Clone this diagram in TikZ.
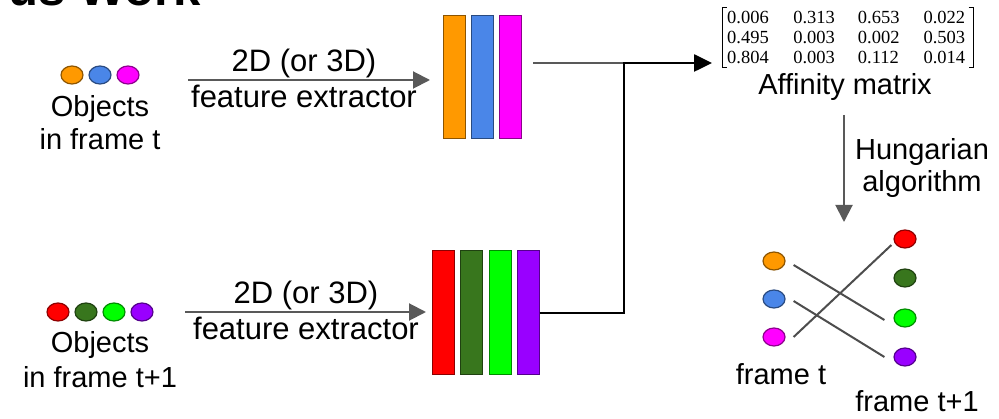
\documentclass[tikz,border=0pt]{standalone}
\usepackage{fontspec}
\setmainfont{Liberation Sans}
\newfontfamily\matfont{Liberation Serif}
\usetikzlibrary{arrows.meta,shapes.geometric,calc}
\definecolor{cOrange}{HTML}{FF9900}
\definecolor{cBlue}{HTML}{4A86E8}
\definecolor{cMagenta}{HTML}{FF00FF}
\definecolor{cRed}{HTML}{FF0000}
\definecolor{cDkGreen}{HTML}{38761D}
\definecolor{cLime}{HTML}{00FF00}
\definecolor{cPurple}{HTML}{9900FF}
\definecolor{cGray}{HTML}{595959}
\definecolor{cLine}{HTML}{4D4D4D}
\begin{document}
\begin{tikzpicture}[x=1pt,y=-1pt,
  lbl/.style={font=\fontsize{29}{34}\selectfont, inner sep=0pt, anchor=base},
  flbl/.style={font=\fontsize{31}{34}\selectfont, inner sep=0pt, anchor=base},
  dot/.style={ellipse, minimum width=22pt, minimum height=18pt, inner sep=0pt,
    fill=#1, draw=#1!55!black, line width=1.2pt},
  bar/.style={rectangle, minimum width=22pt, inner sep=0pt, outer sep=0pt,
    fill=#1, draw=#1!55!black, line width=1pt},
  garrow/.style={draw=cGray, line width=2pt, -{Triangle[length=17pt,width=17pt]}},
  blkline/.style={draw=black, line width=2.6pt, line join=miter},
  link/.style={draw=cLine, line width=2pt},
  brk/.style={draw=black, line width=1pt}]
\useasboundingbox (0,0) rectangle (999,419);
\clip (0,0) rectangle (999,419);

% title (cut off)
\node[anchor=base east, inner sep=0pt, font=\bfseries\fontsize{49}{50}\selectfont] (title) at (201,6) {us Work};

% objects in frame t
\node[dot=cOrange] (a1) at (72,75) {};
\node[dot=cBlue] (a2) at (100,75) {};
\node[dot=cMagenta] (a3) at (128,75) {};
\node[lbl] (objA) at (100,117) {Objects};
\node[lbl] (inA) at (100,150) {in frame t};

% objects in frame t+1
\node[dot=cRed] (c1) at (58,312) {};
\node[dot=cDkGreen] (c2) at (86,312) {};
\node[dot=cLime] (c3) at (114,312) {};
\node[dot=cPurple] (c4) at (142,312) {};
\node[lbl] (objB) at (100,353) {Objects};
\node[lbl] (inB) at (100,388) {in frame t+1};

% feature extractor arrows
\coordinate (fa1) at (188,80);
\coordinate (fa2) at (430,80);
\draw[garrow] (fa1) -- (fa2);
\node[flbl] (fxA1) at (304,72) {2D (or 3D)};
\node[flbl] (fxA2) at (304,108) {feature extractor};

\coordinate (fb1) at (185,312);
\coordinate (fb2) at (426,312);
\draw[garrow] (fb1) -- (fb2);
\node[flbl] (fxB1) at (306,304) {2D (or 3D)};
\node[flbl] (fxB2) at (306,340) {feature extractor};

% feature bars, frame t
\node[bar=cOrange, minimum height=123pt] (b1) at (454,77.5) {};
\node[bar=cBlue, minimum height=123pt] (b2) at (482,77.5) {};
\node[bar=cMagenta, minimum height=123pt] (b3) at (510,77.5) {};

% feature bars, frame t+1
\node[bar=cRed, minimum height=124pt] (b4) at (443,313) {};
\node[bar=cDkGreen, minimum height=124pt] (b5) at (471.5,313) {};
\node[bar=cLime, minimum height=124pt] (b6) at (500,313) {};
\node[bar=cPurple, minimum height=124pt] (b7) at (528.5,313) {};

% connectors to affinity matrix
\coordinate (ts) at (533,63);
\coordinate (jn) at (624,63);
\coordinate (mi) at (712,63);
\draw[draw=cGray, line width=2pt] (ts) -- (jn);
\draw[blkline] (b7.east) -| (jn);
\draw[blkline, -{Triangle[length=18pt,width=17pt]}] ($(jn)+(-1.3,0)$) -- (mi);

% affinity matrix
\node[anchor=base west, inner sep=0pt, font=\matfont\fontsize{18.5}{20}\selectfont] (M) at (727,24)
 {\begin{tabular}[t]{@{}l@{\hspace{24.5pt}}l@{\hspace{23pt}}l@{\hspace{24pt}}l@{}}
  0.006 & 0.313 & 0.653 & 0.022\\
  0.495 & 0.003 & 0.002 & 0.503\\
  0.804 & 0.003 & 0.112 & 0.014
 \end{tabular}};
\draw[brk] (726.5,8) -- (722,8) -- (722,68) -- (726.5,68);
\draw[brk] (968.5,8) -- (973,8) -- (973,68) -- (968.5,68);
\node[lbl] (aff) at (845,95) {Affinity matrix};

% Hungarian algorithm
\coordinate (h1) at (844,115);
\coordinate (h2) at (844,222);
\draw[garrow] (h1) -- (h2);
\node[lbl] (hung1) at (922,160) {Hungarian};
\node[lbl] (hung2) at (922,192) {algorithm};

% bipartite matching
\node[dot=cOrange] (L1) at (774,261) {};
\node[dot=cBlue] (L2) at (774,299) {};
\node[dot=cMagenta] (L3) at (774,337) {};
\node[dot=cRed] (R1) at (905,239) {};
\node[dot=cDkGreen] (R2) at (905,278) {};
\node[dot=cLime] (R3) at (905,318) {};
\node[dot=cPurple] (R4) at (905,357) {};
\draw[link] ($(L1.east)+(8,4)$) -- ($(R3.west)+(-9,2)$);
\draw[link] ($(L2.east)+(8,2)$) -- ($(R4.west)+(-9,0)$);
\draw[link] ($(L3.east)+(8,0)$) -- ($(R1.west)+(-2,6)$);
\node[lbl] (ft) at (781,385) {frame t};
\node[lbl] (ft1) at (917,412) {frame t+1};
\end{tikzpicture}
\end{document}
